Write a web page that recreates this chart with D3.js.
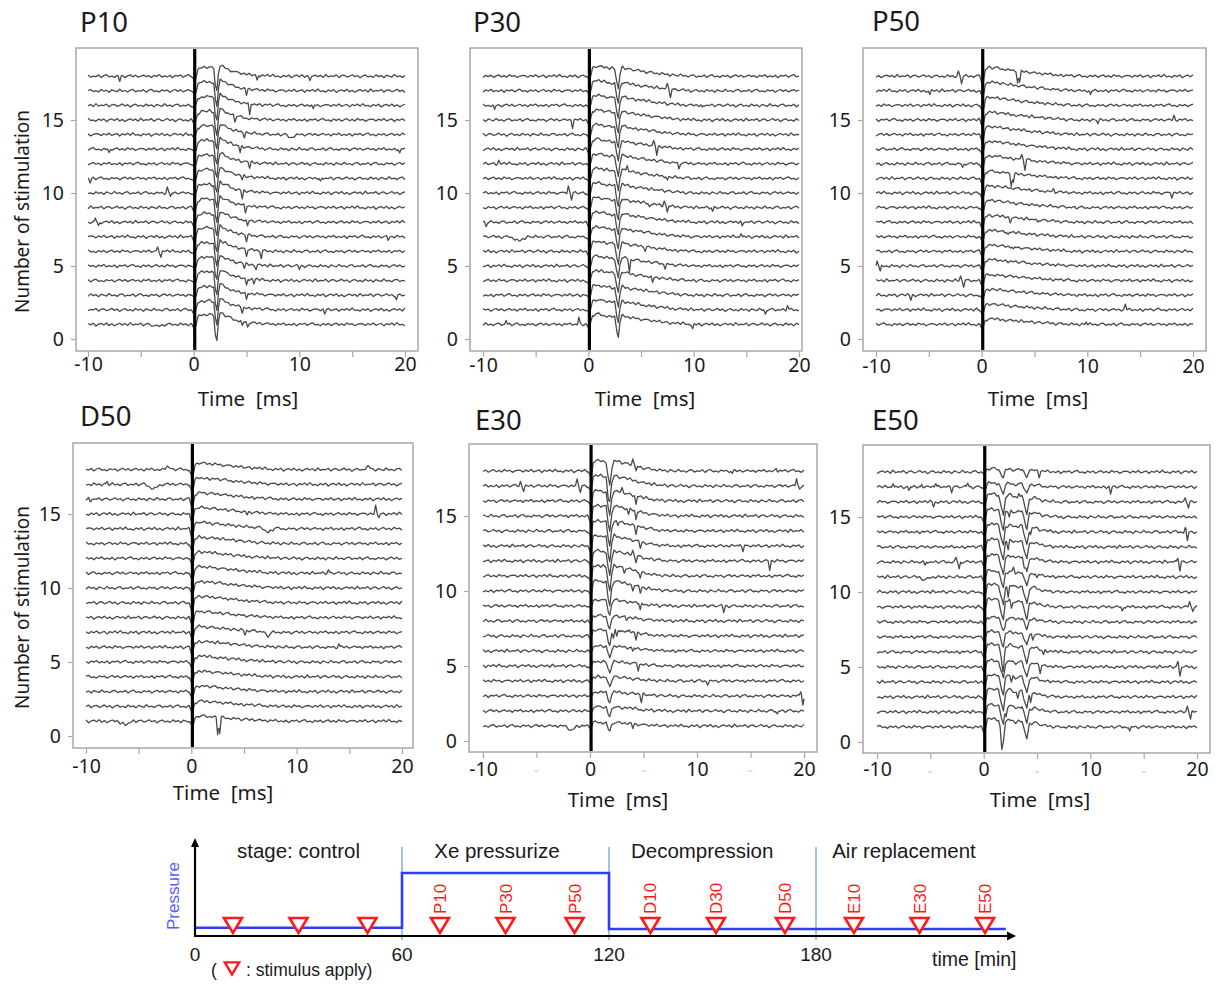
<!DOCTYPE html>
<meta charset="utf-8">
<html>
<head>
<style>
  body { margin: 0; background: #fff; }
  svg text { font-family: "Noto Sans", "Open Sans", sans-serif; fill: #1a1a1a; }
  .tl text { font-family: "Liberation Sans", Arial, sans-serif; }
</style>
</head>
<body>
<div id="chart"></div>

<script src="https://d3js.org/d3.v7.min.js"></script>

<script>

  // ---------------- data ----------------
  var panelNames = ["P10", "P30", "P50", "D50", "E30", "E50"];
  var traceNumbers = [1, 2, 3, 4, 5, 6, 7, 8, 9, 10, 11, 12, 13, 14, 15, 16, 17, 18];
  var xTicks = [-10, -5, 0, 5, 10, 15, 20];
  var xTickLabels = [-10, 0, 10, 20];
  var yTicks = [0, 5, 10, 15];

  var wiggle = [
    0.04,-0.07,0.06,-0.03,0.10,-0.06,0.01,0.07,-0.10,0.05,
    -0.02,0.09,-0.05,0.12,-0.04,0.00,-0.09,0.06,-0.03,0.08,
    -0.11,0.02,0.07,-0.04,0.10,-0.07,0.04,-0.10,0.01,0.08,
    -0.03,0.06,-0.08,0.12,-0.05,0.02,-0.01,0.09,-0.09,0.04,
    0.07,-0.06,0.00,0.10,-0.04,0.05,-0.11,0.02,0.08,-0.05,
    0.01,-0.08,0.09,-0.03,0.04,-0.10,0.07,0.00,-0.06,0.11,
    -0.04,0.02,-0.08,0.05,0.09,-0.07,0.01,-0.03,0.08,-0.09,
    0.04,0.10,-0.05,0.00,-0.08,0.06,-0.01,0.05,-0.10,0.02,
    0.09,-0.04,0.07,-0.07,0.01,0.08,-0.03,0.04,-0.09,0.06,
    -0.01,0.10,-0.06,0.02,-0.05,0.07,-0.10,0.05,0.00,0.08,
    -0.07,0.04,0.11,-0.04,0.01,-0.09,0.06,-0.03,0.07,-0.08,
    0.02,0.09,-0.05,0.04,-0.07,0.10,-0.01,0.05,-0.09,0.01,
    0.06
  ];

  // evoked response shape per panel: [time ms, offset in trace units]
  var responseP10 = [[-0.2,0],[0.1,-0.3],[0.4,0.45],[0.8,0.6],[1.5,0.62],[1.9,0.5],[2.05,-0.6],[2.2,-1.0],[2.35,0.2],[2.5,0.75],[3.0,0.55],[3.8,0.3],[5,0.12],[6.5,0.04],[8,0]];
  var responseP30 = [[-0.2,0],[0.1,-0.3],[0.4,0.6],[0.8,0.7],[1.5,0.6],[2.5,0.5],[2.7,-0.4],[2.85,-0.85],[3.0,0.1],[3.2,0.6],[4,0.45],[6,0.25],[8,0.08],[10,0]];
  var responseP50 = [[-0.2,0],[0.1,-0.5],[0.35,0.4],[0.6,0.55],[1.5,0.5],[3,0.35],[5,0.2],[7,0.08],[9,0]];
  var responseD50 = [[-0.2,0],[0.1,-0.6],[0.35,0.3],[0.7,0.45],[1.5,0.4],[3,0.3],[5,0.15],[7,0.05],[9,0]];
  var responseE30 = [[-0.2,0],[0.1,-0.4],[0.3,0.6],[0.7,0.7],[1.5,0.6],[1.7,-0.5],[1.85,-1.0],[2.05,0.2],[2.25,0.7],[3,0.55],[4,0.4],[5,0.2],[6.5,0.05],[8,0]];
  var responseE50 = [[-0.2,0],[0.1,-0.4],[0.35,0.5],[0.8,0.55],[1.4,0.45],[1.65,-0.4],[1.85,-0.9],[2.05,0.3],[2.4,0.5],[3.0,0.3],[3.6,0.4],[3.85,-0.3],[4.05,-0.8],[4.3,0.2],[4.8,0.3],[5.5,0.1],[7,0]];

  // response size of each trace (trace 1 first)
  var gainP10 = [1.1,1,1,1,1,1,1,1,1,1,1,1,1,1,1,1,1,1];
  var gainP30 = [1,1,1,1,1,1,1,1,1,1,1,1,1,1,1,1,1,1];
  var gainP50 = [0.7,0.7,0.75,0.75,0.8,0.8,0.8,0.85,0.9,0.9,0.9,1,1,1,1,1,1.1,1.1];
  var gainD50 = [0.8,0.8,0.85,0.85,0.9,0.9,0.9,0.95,1,1,1,1,1,1,1,1,1,1];
  var gainE30 = [0.35,0.4,0.4,0.4,0.45,0.5,0.6,0.5,0.6,1,1,1,1,1,1,1,1,1];
  var gainE50 = [1,0.9,1,0.9,0.8,1,0.7,0.6,1,1,0.8,0.9,1,1,1,1,0.5,0.4];

  // single spikes: [trace, time ms, amplitude, half width ms (optional)]
  var spikesP10 = [
    [18,-7.0,-0.35],[18,6.0,-0.4],[18,11.0,-0.2],[17,5.0,-0.4],[16,5.3,-0.8],[16,11.3,-0.3],
    [15,3.9,-0.4],[14,4.8,-0.3],[13,-8.0,-0.3],[13,4.4,-0.5],[13,19.5,-0.3],[12,5.3,-0.4],
    [11,-9.8,-0.3],[11,4.6,-0.3],[11,12.0,-0.3],[10,-2.5,0.4],[10,-2.2,-0.3],[10,4.6,-0.6],
    [9,4.9,-0.5],[8,-9.3,0.3],[8,-9.0,-0.3],[8,5.1,-0.4],[7,5.0,-0.4],[7,18.4,-0.25],
    [6,-3.4,0.3],[6,-3.1,-0.4],[6,5.0,-0.4],[6,6.4,-0.5],[5,4.8,-0.3],[5,5.9,-0.3],[5,10.0,-0.2],
    [4,5.0,-0.5],[4,5.7,-0.3],[3,5.0,-0.5],[3,19.2,-0.3],[2,4.6,-0.4],[2,12.4,-0.3],
    [1,4.6,-0.3],[1,5.1,-0.3],[14,9.2,-0.2,0.6],[1,-3.5,-0.15,0.8]
  ];
  var spikesP30 = [
    [17,7.5,0.3],[17,7.8,-0.5],[16,-8.9,-0.3],[16,10.8,-0.2],[15,-1.5,-0.5],[13,6.2,0.3],[13,6.5,-0.6],
    [12,-8.5,0.2],[12,8.6,-0.4],[11,3.7,0.4],[11,7.5,-0.3],[10,-1.9,0.5],[10,-1.6,-0.5],
    [9,5.8,-0.2],[9,7.2,0.3],[9,7.5,-0.5],[9,11.8,-0.3],[8,-9.7,-0.3],[8,14.6,-0.3],
    [7,-6.6,-0.3,0.8],[7,14.5,0.3],[6,5.4,-0.3],[5,3.9,-0.9],[5,7.3,-0.3],[4,6.1,-0.4],
    [2,16.8,-0.3],[2,18.9,0.3],[1,-7.8,0.3],[1,-0.9,0.5],[1,9.9,-0.3]
  ];
  var spikesP50 = [
    [18,-2.2,0.3],[18,-1.9,-0.5],[18,3.4,-0.8],[18,3.6,-0.8],[17,-4.9,-0.3],[17,10.3,-0.3],
    [15,11.0,-0.2],[15,18.2,0.3],[12,-1.8,-0.3],[12,3.8,0.3],[12,4.1,-0.7],[11,2.8,-0.8],[11,3.0,-0.6],
    [10,6.8,0.2],[10,18.0,-0.3],[8,2.7,-0.3],[8,5.3,-0.2],[7,2.5,-0.2],[6,3.0,-0.2],
    [5,-9.9,0.4],[5,-9.6,-0.4],[4,-2.0,0.3],[4,-1.7,-0.4],[3,-6.7,-0.3],[2,13.6,0.35],[1,9.9,0.2]
  ];
  var spikesD50 = [
    [18,-2.3,0.2,0.5],[18,16.8,0.2,0.5],[17,-8.0,0.2],[17,-3.6,-0.3,0.8],[16,-9.6,-0.2],
    [15,5.3,-0.2],[15,17.5,0.5],[15,17.8,-0.2],[14,7.3,-0.3,0.6],[11,13.0,0.2],
    [7,5.1,-0.3],[7,7.3,-0.3,0.5],[6,14.0,0.2],[1,-6.3,-0.25,0.8],[1,2.5,-1.1],[1,2.7,-1.1]
  ];
  var spikesE30 = [
    [18,4.0,0.4],[18,4.3,-0.4],[18,13.3,-0.2],[18,17.4,0.2],
    [17,-6.5,0.3],[17,-6.2,-0.3],[17,-1.2,0.4],[17,-0.9,-0.4],[17,1.7,-0.3],[17,19.3,0.5],[17,19.6,-0.2],
    [16,4.3,-0.6],[15,3.6,-0.4],[15,4.3,-0.6],[14,4.3,-0.5],[13,4.7,-0.4],[13,14.0,0.2],[13,14.3,-0.4],
    [12,4.0,0.3],[12,4.3,-0.4],[12,16.8,-0.6],[11,4.7,-0.4],[10,4.0,-0.3],[10,4.7,-0.4],
    [9,4.7,-0.5],[9,12.5,-0.4],[8,3.4,-0.2],[7,2.2,-0.5],[7,2.5,-0.5],[7,3.7,0.2],[7,4.3,-0.5],
    [6,4.0,-0.3],[5,4.5,-0.4],[4,11.0,-0.2],[3,4.8,-0.5],[3,19.7,0.3],[3,19.9,-0.6],
    [2,17.5,-0.2],[1,-1.8,-0.3,0.6],[1,4.0,-0.3],[14,2.6,-0.3],[11,3.2,-0.3],[16,3.0,0.25]
  ];
  var spikesE50 = [
    [18,5.2,-0.4],[17,-8.5,0.3],[17,-7.0,-0.3],[17,-5.8,0.25],[17,-4.5,0.3],[17,-3.0,-0.3],[17,-1.5,0.3],[17,11.9,-0.5],
    [16,-4.7,-0.3],[16,18.9,0.3],[16,19.2,-0.4],[14,18.9,0.3],[14,19.1,-0.6],
    [12,-5.5,-0.3],[12,-2.6,0.3],[12,-2.3,-0.5],[12,18.2,0.3],[12,18.4,-0.6],[11,-5.5,-0.2,0.6],[11,5.0,-0.3],
    [9,13.0,-0.3],[9,19.3,0.4],[9,19.6,-0.3],[6,5.6,-0.3],[5,5.3,-0.5],[5,18.2,0.3],[5,18.4,-0.6],
    [3,4.4,-0.6],[2,19.1,0.4],[2,19.4,-0.5],[1,1.7,-0.9],[1,13.7,-0.3],
    [15,2.4,-0.5],[13,2.3,-0.6],[10,2.3,-0.8],[9,2.6,-0.5],[8,2.0,-0.4],[6,1.8,-0.5],[4,2.6,-0.4],
    [2,2.1,-0.6],[14,4.4,-0.4],[12,3.8,-0.3],[7,4.6,-0.4],[3,3.2,-0.4],[16,3.3,0.3],[11,2.8,0.3]
  ];

  // experiment timeline
  var stageNames = ["stage: control", "Xe pressurize", "Decompression", "Air replacement"];
  var stageLabelMin = [30, 87.5, 147, 205.5];
  var stageBounds = [60, 120, 180];
  var pressureMin = [0, 60, 60, 120, 120, 235];
  var pressureLevel = [0.13, 0.13, 1, 1, 0.11, 0.11];
  var stimMin = [11, 30, 50, 71, 90, 110, 132, 151, 171, 191, 210, 229];
  var stimLabels = ["", "", "", "P10", "P30", "P50", "D10", "D30", "D50", "E10", "E30", "E50"];
  var timeTicks = [0, 60, 120, 180];

  // ---------------- layout ----------------
  var layout = [
    {frame: [76, 48, 418, 351],  x: [88, 405],  y: [339, 120], titleX: 80,  titleY: 32,  timeX: 248,  timeY: 406, pad: 1, yLabel: true},
    {frame: [470, 48, 802, 351], x: [483, 799], y: [339, 120], titleX: 473, titleY: 32,  timeX: 645,  timeY: 406, pad: 2},
    {frame: [863, 48, 1206, 351], x: [876, 1193], y: [339, 120], titleX: 872, titleY: 31, timeX: 1038, timeY: 406, pad: 3},
    {frame: [73, 443, 413, 748], x: [86, 402],  y: [736, 514], titleX: 80,  titleY: 426, timeX: 223,  timeY: 800, pad: 6, yLabel: true},
    {frame: [469, 444, 817, 752], x: [483, 804], y: [741, 516], titleX: 475, titleY: 430, timeX: 618,  timeY: 807, pad: 5, dashes: true},
    {frame: [863, 445, 1210, 753], x: [877, 1197], y: [742, 517], titleX: 872, titleY: 430, timeX: 1040, timeY: 807, pad: 4, dashes: true}
  ];

  var responses = [responseP10, responseP30, responseP50, responseD50, responseE30, responseE50];
  var gains = [gainP10, gainP30, gainP50, gainD50, gainE30, gainE50];
  var spikes = [spikesP10, spikesP30, spikesP50, spikesD50, spikesE30, spikesE50];

  var svg = d3.select("#chart")
    .append("svg")
      .attr("width", 1218)
      .attr("height", 986);

  // linear interpolation inside a point list, 0 outside it
  var bis = d3.bisector(function(d) { return d[0]; }).right;
  function interp(pts, t) {
    if (t <= pts[0][0] || t >= pts[pts.length - 1][0]) return 0;
    var i = bis(pts, t);
    var a = pts[i - 1], b = pts[i];
    return a[1] + (b[1] - a[1]) * (t - a[0]) / (b[0] - a[0]);
  }

  var step = 30 / (wiggle.length - 1);
  function noiseAt(t, shift) {
    var j = (t + 10) / step, j0 = Math.floor(j), f = j - j0;
    var n = wiggle.length;
    var a = wiggle[(j0 + shift) % n], b = wiggle[(j0 + 1 + shift) % n];
    return a + (b - a) * f;
  }

  function buildTrace(pi, k) {
    var resp = responses[pi], gain = gains[pi][k - 1];
    var mine = spikes[pi].filter(function(s) { return s[0] === k; });
    var shift = (k * 17 + pi * 41) % wiggle.length;
    var times = wiggle.map(function(d, j) { return -10 + j * step; });
    resp.forEach(function(p) { times.push(p[0]); });
    mine.forEach(function(s) {
      var w = s[3] || 0.15;
      times.push(s[1] - w, s[1], s[1] + w);
    });
    times = Array.from(new Set(times.map(function(t) { return +t.toFixed(4); })))
      .filter(function(t) { return t >= -10 && t <= 20; })
      .sort(d3.ascending);
    return times.map(function(t) {
      var v = noiseAt(t, shift) + gain * interp(resp, t);
      mine.forEach(function(s) {
        var w = s[3] || 0.15;
        v += s[2] * Math.max(0, 1 - Math.abs(t - s[1]) / w);
      });
      return [t, k + v];
    });
  }

  // ---------------- panels ----------------
  panelNames.forEach(function(name, pi) {
    var L = layout[pi];
    var x = d3.scaleLinear().domain([-10, 20]).range(L.x);
    var y = d3.scaleLinear().domain([0, 15]).range(L.y);
    var g = svg.append("g");

    g.append("rect")
      .attr("x", L.frame[0]).attr("y", L.frame[1])
      .attr("width", L.frame[2] - L.frame[0])
      .attr("height", L.frame[3] - L.frame[1])
      .attr("fill", "#fff")
      .attr("stroke", "#a8a8a8")
      .attr("stroke-width", 1.5);

    // X axis
    var xa = g.append("g")
      .attr("transform", "translate(0," + L.frame[3] + ")")
      .call(d3.axisBottom(x).tickValues(xTicks).tickSize(6).tickPadding(L.pad - 1)
        .tickFormat(function(d) { return xTickLabels.indexOf(d) >= 0 ? d : ""; }));
    xa.select(".domain").remove();
    xa.selectAll("line").attr("stroke", "#a8a8a8").attr("stroke-width", 1.2);
    xa.selectAll("text").attr("font-size", 19.5).attr("font-family", "Noto Sans, sans-serif").attr("fill", "#1a1a1a");

    if (L.dashes) {
      g.selectAll(".dash").data([-5, 5, 15]).enter().append("line")
        .attr("x1", function(d) { return x(d) - 2; })
        .attr("x2", function(d) { return x(d) + 2; })
        .attr("y1", L.frame[3] + 19).attr("y2", L.frame[3] + 19)
        .attr("stroke", "#e2c8ae").attr("stroke-width", 1.2);
    }

    // Y axis
    var ya = g.append("g")
      .attr("transform", "translate(" + L.frame[0] + ",0)")
      .call(d3.axisLeft(y).tickValues(yTicks).tickSize(5).tickPadding(7));
    ya.select(".domain").remove();
    ya.selectAll("line").attr("stroke", "#a8a8a8").attr("stroke-width", 1.2);
    ya.selectAll("text").attr("font-size", 19.5).attr("font-family", "Noto Sans, sans-serif").attr("fill", "#1a1a1a");

    // Traces
    var line = d3.line()
      .x(function(d) { return x(d[0]); })
      .y(function(d) { return y(d[1]); });

    g.append("g").selectAll("path")
      .data(traceNumbers.map(function(k) { return buildTrace(pi, k); }))
      .enter()
      .append("path")
        .attr("fill", "none")
        .attr("stroke", "#4a4a4a")
        .attr("stroke-width", 1.3)
        .attr("stroke-linejoin", "round")
        .attr("d", line);

    // stimulus onset
    g.append("line")
      .attr("x1", x(0.1)).attr("x2", x(0.1))
      .attr("y1", L.frame[1] + 1).attr("y2", L.frame[3] - 1)
      .attr("stroke", "#000")
      .attr("stroke-width", 3.2);

    // Labels
    g.append("text")
      .attr("x", L.titleX).attr("y", L.titleY)
      .attr("font-size", 27.5)
      .text(name);

    g.append("text")
      .attr("x", L.timeX).attr("y", L.timeY)
      .attr("text-anchor", "middle")
      .attr("font-size", 20.5)
      .text("Time\u00a0\u00a0[ms]");

    if (L.yLabel) {
      g.append("text")
        .attr("transform", "translate(29," + ((L.frame[1] + L.frame[3]) / 2 + 12) + ") rotate(-90)")
        .attr("text-anchor", "middle")
        .attr("font-size", 19)
        .text("Number of stimulation");
    }
  });

  // ---------------- timeline ----------------
  var tl = svg.append("g").attr("class", "tl");
  var tx = d3.scaleLinear().domain([0, 180]).range([195, 816]);
  var py = d3.scaleLinear().domain([0, 1]).range([936, 873]);

  // stage separators
  tl.selectAll(".sep").data(stageBounds).enter().append("line")
    .attr("x1", function(d) { return tx(d); }).attr("x2", function(d) { return tx(d); })
    .attr("y1", 847).attr("y2", 940)
    .attr("stroke", "#8db3de").attr("stroke-width", 1.6);

  // pressure
  tl.append("path")
    .datum(pressureMin.map(function(m, i) { return [m, pressureLevel[i]]; }))
    .attr("fill", "none")
    .attr("stroke", "#2f3cff")
    .attr("stroke-width", 2.6)
    .attr("d", d3.line().x(function(d) { return tx(d[0]); }).y(function(d) { return py(d[1]); }));

  // axes with arrow heads
  tl.append("line").attr("x1", tx(0)).attr("x2", 1010).attr("y1", py(0)).attr("y2", py(0))
    .attr("stroke", "#000").attr("stroke-width", 2.2);
  tl.append("path").attr("d", "M1016," + py(0) + "l-9,-4.5l0,9z").attr("fill", "#000");
  tl.append("line").attr("x1", tx(0)).attr("x2", tx(0)).attr("y1", py(0) + 1).attr("y2", 844)
    .attr("stroke", "#000").attr("stroke-width", 2.2);
  tl.append("path").attr("d", "M" + tx(0) + ",838l-4,9l8,0z").attr("fill", "#000");

  // stage names
  tl.selectAll(".stage").data(stageNames).enter().append("text")
    .attr("x", function(d, i) { return tx(stageLabelMin[i]); })
    .attr("y", 858)
    .attr("text-anchor", "middle")
    .attr("font-size", 20.5)
    .text(function(d) { return d; });

  // stimulus triangles
  var tri = "M-9,-7L9,-7L0,8Z";
  tl.selectAll(".stim").data(stimMin).enter().append("path")
    .attr("transform", function(d) { return "translate(" + tx(d) + ",925)"; })
    .attr("d", tri)
    .attr("fill", "#fff")
    .attr("stroke", "#ff1a1a")
    .attr("stroke-width", 2.6)
    .attr("stroke-linejoin", "miter");

  tl.selectAll(".stimLab").data(stimLabels).enter().append("text")
    .attr("transform", function(d, i) { return "translate(" + (tx(stimMin[i]) + 6) + ",914) rotate(-90)"; })
    .attr("font-size", 17)
    .style("fill", "#ff1a1a")
    .text(function(d) { return d; });

  // tick labels
  tl.selectAll(".tt").data(timeTicks).enter().append("text")
    .attr("x", function(d) { return tx(d); })
    .attr("y", 961)
    .attr("text-anchor", "middle")
    .attr("font-size", 19)
    .text(function(d) { return d; });

  tl.append("text").attr("x", 932).attr("y", 966).attr("font-size", 19.5).text("time [min]");

  tl.append("text")
    .attr("transform", "translate(179,896) rotate(-90)")
    .attr("text-anchor", "middle")
    .attr("font-size", 17)
    .style("fill", "#5b5bff")
    .text("Pressure");

  // legend
  tl.append("text").attr("x", 211).attr("y", 976).attr("font-size", 17.5).text("(");
  tl.append("path")
    .attr("transform", "translate(232,968) scale(0.8)")
    .attr("d", tri)
    .attr("fill", "#fff")
    .attr("stroke", "#ff1a1a")
    .attr("stroke-width", 3);
  tl.append("text").attr("x", 246).attr("y", 976).attr("font-size", 17.5).text(": stimulus apply)");

</script>
</body>
</html>
